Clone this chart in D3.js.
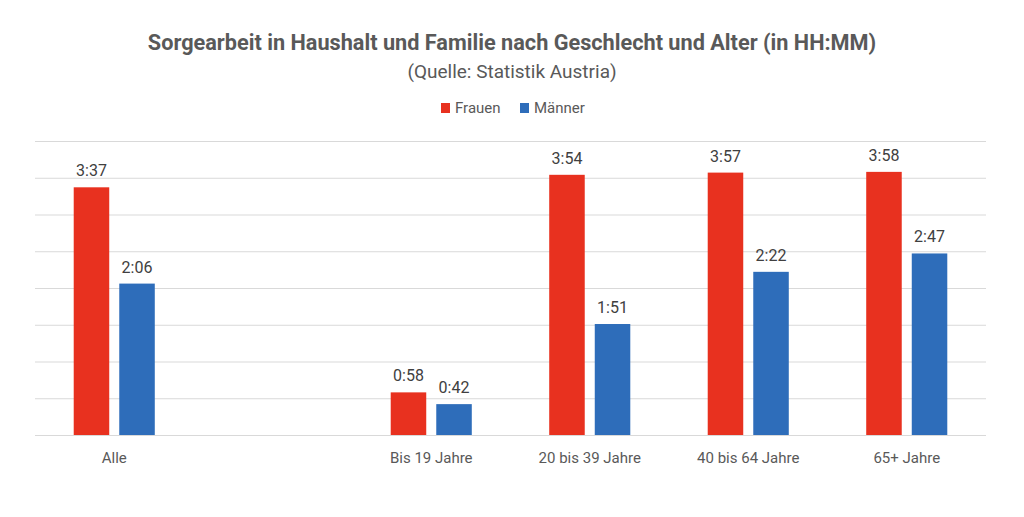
<!DOCTYPE html>
<html>
<head>
<meta charset="utf-8">
<script src="https://cdn.jsdelivr.net/npm/d3@7"></script>
<style>
  body { margin: 0; background: #fff; }
  text { font-family: Roboto, "Noto Sans", sans-serif; }
</style>
</head>
<body>
<div id="chart"></div>
<script>
// Werte so wie im Original eingegeben (Stunden.Minuten als Dezimalzahl)
var categories = ["Alle", "", "Bis 19 Jahre", "20 bis 39 Jahre", "40 bis 64 Jahre", "65+ Jahre"];
var seriesNames = ["Frauen", "Männer"];
var frauen  = [3.37, null, 0.58, 3.54, 3.57, 3.58];
var maenner = [2.06, null, 0.42, 1.51, 2.22, 2.47];
var gridValues = [0, 0.5, 1, 1.5, 2, 2.5, 3, 3.5, 4];

var colors = {"Frauen": "#e8311f", "Männer": "#2e6dba"};

var W = 1024, H = 517,
    margin = {top: 141, left: 35, bottom: 82, right: 38},
    width = W - margin.left - margin.right,
    height = H - margin.top - margin.bottom;

var svg = d3.select("#chart").append("svg").attr("width", W).attr("height", H);

// Titel
svg.append("text")
  .attr("x", W / 2).attr("y", 50)
  .attr("text-anchor", "middle")
  .style("font-weight", "bold").style("font-size", "21.7px")
  .attr("fill", "#595959")
  .text("Sorgearbeit in Haushalt und Familie nach Geschlecht und Alter (in HH:MM)");

svg.append("text")
  .attr("x", W / 2).attr("y", 78)
  .attr("text-anchor", "middle")
  .style("font-size", "19px")
  .attr("fill", "#595959")
  .text("(Quelle: Statistik Austria)");

// Legende
var legendX = [441, 520];
var legend = svg.selectAll("g.legend").data(seriesNames).enter().append("g")
  .attr("class", "legend")
  .attr("transform", (d, i) => `translate(${legendX[i]},103)`);
legend.append("rect").attr("width", 9).attr("height", 10).attr("fill", d => colors[d]);
legend.append("text").attr("x", 14).attr("y", 10)
  .style("font-size", "15px").attr("fill", "#595959").text(d => d);

var g = svg.append("g").attr("transform", `translate(${margin.left},${margin.top})`);

var x0 = d3.scaleBand().domain(categories).range([0, width]).padding(0);
var x1 = d3.scaleBand().domain(seriesNames).range([0, x0.bandwidth()])
  .paddingInner(0.22).paddingOuter(0.85);
var y = d3.scaleLinear().domain([0, 4]).range([height, 0]);

// Gitternetz
g.append("g")
  .attr("class", "grid")
  .call(d3.axisLeft(y).tickValues(gridValues).tickSize(-width).tickFormat(""))
  .call(s => s.select(".domain").remove())
  .call(s => s.selectAll("line").attr("stroke", "#d9d9d9").attr("stroke-width", 1.2));

// x-Achse
g.append("g")
  .attr("transform", `translate(0,${height})`)
  .call(d3.axisBottom(x0).tickSize(0).tickPadding(17))
  .call(s => s.select(".domain").remove())
  .call(s => s.selectAll("text").style("font-size", "15px")
    .style("font-family", "Roboto, sans-serif").attr("fill", "#595959"));

var rows = categories.map((c, i) => ({cat: c, values: [
  {key: "Frauen", value: frauen[i]},
  {key: "Männer", value: maenner[i]}
]}));

var fmt = v => d3.format(".2f")(v).replace(".", ":");

var groups = g.selectAll("g.cat").data(rows).enter().append("g")
  .attr("class", "cat")
  .attr("transform", d => `translate(${x0(d.cat)},0)`);

var items = groups.selectAll("g.item")
  .data(d => d.values.filter(v => v.value != null))
  .enter().append("g").attr("class", "item");

items.append("rect")
  .attr("x", d => x1(d.key))
  .attr("width", x1.bandwidth())
  .attr("y", d => y(d.value))
  .attr("height", d => height - y(d.value))
  .attr("fill", d => colors[d.key]);

items.append("text")
  .attr("x", d => x1(d.key) + x1.bandwidth() / 2)
  .attr("y", d => y(d.value) - 11)
  .attr("text-anchor", "middle")
  .style("font-size", "16px")
  .attr("fill", "#404040")
  .text(d => fmt(d.value));
</script>
</body>
</html>
